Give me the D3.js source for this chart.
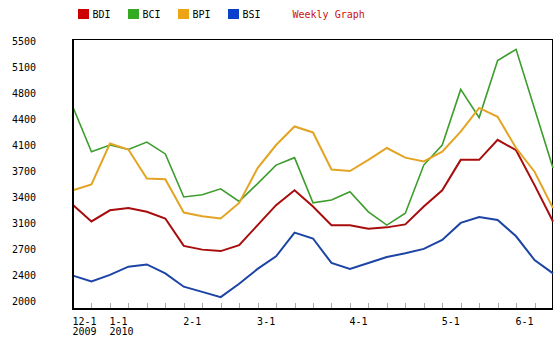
<!DOCTYPE html>
<html><head><meta charset="utf-8">
<script src="https://cdn.jsdelivr.net/npm/d3@7/dist/d3.min.js"></script>
<style>body{margin:0;background:#fff}svg{display:block}text{font-family:"DejaVu Sans Mono",monospace;font-size:10px;fill:#000}</style>
</head><body>
<script>
const weeks = d3.range(27);
const monthLabels = [
  {week: 0, line1: "12-1", line2: "2009"},
  {week: 2, line1: "1-1", line2: "2010"},
  {week: 6, line1: "2-1"},
  {week: 10, line1: "3-1"},
  {week: 15, line1: "4-1"},
  {week: 20, line1: "5-1"},
  {week: 24, line1: "6-1"}
];
const yTickLabels = ["2000","2400","2700","3100","3400","3700","4100","4400","4800","5100","5500"];
const BDI = [3290,3070,3220,3250,3200,3110,2740,2690,2670,2750,3020,3290,3490,3270,3020,3020,2970,2990,3030,3270,3490,3900,3900,4170,4030,3560,3070];
const BCI = [4610,4010,4100,4040,4140,3980,3400,3430,3510,3340,3580,3830,3930,3320,3360,3470,3200,3020,3180,3830,4100,4850,4470,5240,5390,4590,3790];
const BPI = [3490,3570,4120,4040,3650,3640,3190,3140,3110,3320,3790,4100,4350,4270,3770,3750,3900,4060,3930,3880,4010,4280,4600,4480,4060,3740,3250];
const BSI = [2340,2260,2350,2460,2490,2370,2190,2120,2050,2230,2430,2600,2920,2840,2510,2430,2510,2590,2640,2700,2820,3050,3130,3090,2870,2550,2370];
const seriesNames = ["BDI","BCI","BPI","BSI"];
const seriesData = [BDI, BCI, BPI, BSI];
const lineColors = ["#a80c0c","#3c9c2c","#e3a424","#1c44a4"];
const swatchColors = ["#cc0000","#33aa22","#eea515","#0a40cc"];
const titleText = "Weekly Graph";

const W = 560, H = 338;
const svg = d3.select("body").append("svg").attr("width", W).attr("height", H);
const x = d3.scaleLinear().domain([0, 26]).range([73, 553]);
const y = d3.scaleLinear().domain([2000, 5500]).range([300.8, 41.2]);
const box = {top: 39, bottom: 309, left: 73, right: 553};

// legend
seriesNames.forEach((n, i) => {
  const lx = 78 + i * 50;
  svg.append("rect").attr("x", lx).attr("y", 9).attr("width", 11).attr("height", 10).attr("fill", swatchColors[i]);
  svg.append("text").attr("x", lx + 14.5).attr("y", 18.3).text(n);
});
svg.append("text").attr("x", 292.5).attr("y", 18.3).style("fill", "#cc1111").text(titleText);

// frame
svg.append("line").attr("x1", box.left).attr("x2", box.right).attr("y1", box.top + 0.5).attr("y2", box.top + 0.5).attr("stroke", "#000").attr("stroke-width", 1);
svg.append("line").attr("x1", box.right - 0.5).attr("x2", box.right - 0.5).attr("y1", box.top).attr("y2", box.bottom).attr("stroke", "#000").attr("stroke-width", 1);

// x ticks
const tickWeeks = d3.range(1, 26);
svg.append("g").selectAll("line").data(tickWeeks).join("line")
  .attr("x1", d => Math.round(x(d)) + 0.5).attr("x2", d => Math.round(x(d)) + 0.5)
  .attr("y1", box.bottom - 6).attr("y2", box.bottom).attr("stroke", "#aaa").attr("stroke-width", 1);

// lines
const line = d3.line().x((d, i) => x(weeks[i])).y(d => y(d));
seriesData.forEach((s, i) => {
  svg.append("path").datum(s).attr("d", line).attr("fill", "none")
    .attr("stroke", lineColors[i]).attr("stroke-width", i === 1 ? 1.6 : 2).attr("stroke-linejoin", "miter");
});

// axes lines
svg.append("line").attr("x1", box.left).attr("x2", box.left).attr("y1", box.top).attr("y2", box.bottom + 1).attr("stroke", "#000").attr("stroke-width", 2);
svg.append("line").attr("x1", box.left - 1).attr("x2", box.right).attr("y1", box.bottom).attr("y2", box.bottom).attr("stroke", "#000").attr("stroke-width", 2);

// y labels
const yStep = (5500 - 2000) / (yTickLabels.length - 1);
svg.append("g").selectAll("text").data(yTickLabels).join("text")
  .attr("x", 36).attr("text-anchor", "end")
  .attr("y", (d, i) => y(2000 + i * yStep) + 3.7).text(d => d);

// x labels
const xl = svg.append("g").selectAll("g").data(monthLabels).join("g");
xl.append("text").attr("x", d => x(d.week) - 0.5).attr("y", 325).text(d => d.line1);
xl.filter(d => d.line2).append("text").attr("x", d => x(d.week) - 0.5).attr("y", 335).text(d => d.line2);
</script>
</body></html>
